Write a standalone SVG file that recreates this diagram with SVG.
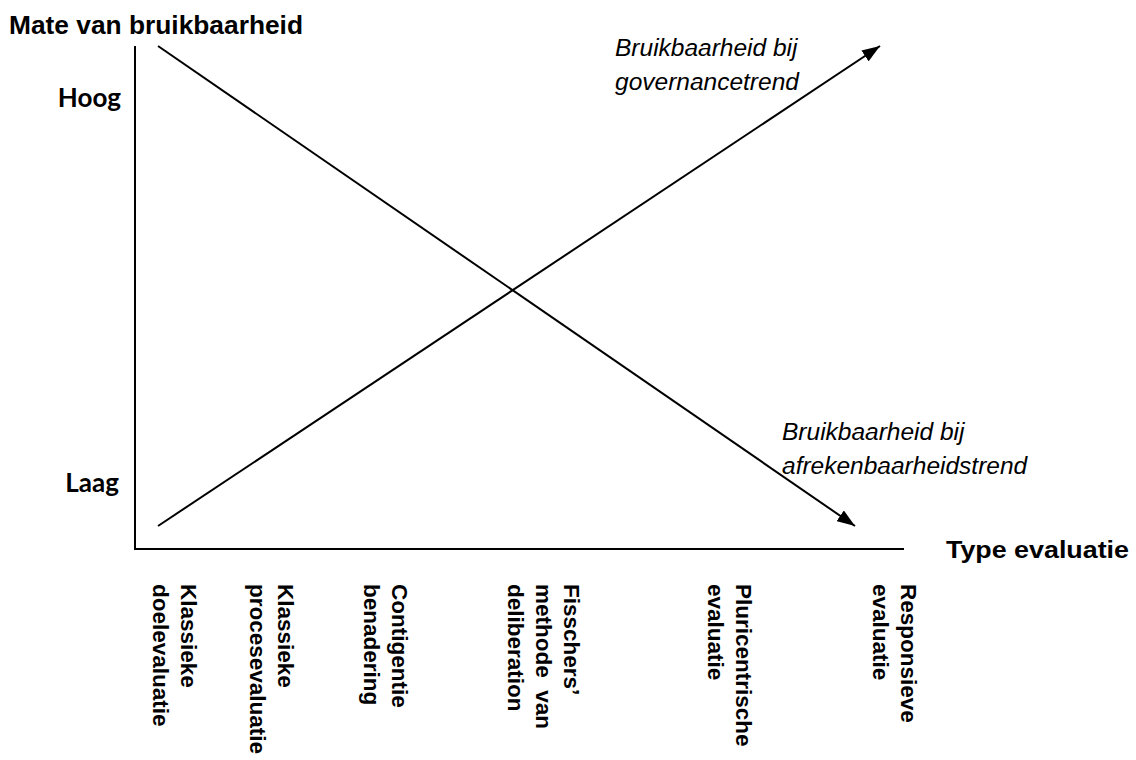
<svg xmlns="http://www.w3.org/2000/svg" width="1136" height="760" viewBox="0 0 1136 760">
<defs>
<marker id="arr" markerWidth="18" markerHeight="13" refX="18" refY="6.5" orient="auto" markerUnits="userSpaceOnUse">
<path d="M0,0 L18,6.5 L0,13 Z" fill="#000"/>
</marker>
<style>
.ax{font-family:"Liberation Sans",Arial,sans-serif;font-weight:bold;fill:#000}
.lv{font-family:Lato,"Liberation Sans",sans-serif;font-weight:bold;font-size:26px;fill:#000}
.it{font-family:"Liberation Sans",Arial,sans-serif;font-style:italic;font-size:24.5px;fill:#000}
.lb{font-family:"Liberation Sans",Arial,sans-serif;font-weight:bold;font-size:22.5px;fill:#000}
.ln{stroke:#000;stroke-width:2;fill:none}
</style>
</defs>
<rect width="1136" height="760" fill="#fff"/>
<g id="axes">
<line class="ln" x1="135" y1="46" x2="135" y2="549"/>
<line class="ln" x1="134" y1="549" x2="904" y2="549"/>
</g>
<g id="connectors">
<line class="ln" x1="158" y1="46" x2="855" y2="526" marker-end="url(#arr)"/>
<line class="ln" x1="158" y1="526" x2="880" y2="46" marker-end="url(#arr)"/>
</g>
<g id="axis-labels">
<text class="ax" x="9" y="34" font-size="25" textLength="294" lengthAdjust="spacingAndGlyphs">Mate van bruikbaarheid</text>
<text class="ax" x="946" y="558" font-size="24" textLength="183" lengthAdjust="spacingAndGlyphs">Type evaluatie</text>
<text class="lv" x="121" y="107" text-anchor="end">Hoog</text>
<text class="lv" x="119" y="492" text-anchor="end">Laag</text>
</g>
<g id="trend-governance">
<text class="it" x="615" y="56">Bruikbaarheid bij</text>
<text class="it" x="615" y="90">governancetrend</text>
</g>
<g id="trend-afrekenbaarheid">
<text class="it" x="782" y="440">Bruikbaarheid bij</text>
<text class="it" x="782" y="474">afrekenbaarheidstrend</text>
</g>
<g id="type-1" transform="translate(181,584) rotate(90)">
<text class="lb" x="0" y="0">Klassieke</text>
<text class="lb" x="0" y="28">doelevaluatie</text>
</g>
<g id="type-2" transform="translate(278,584) rotate(90)">
<text class="lb" x="0" y="0">Klassieke</text>
<text class="lb" x="0" y="28">procesevaluatie</text>
</g>
<g id="type-3" transform="translate(392,584) rotate(90)">
<text class="lb" x="0" y="0">Contigentie</text>
<text class="lb" x="0" y="28">benadering</text>
</g>
<g id="type-4" transform="translate(564,584) rotate(90)">
<text class="lb" x="0" y="0">Fisschers’</text>
<text class="lb" x="0" y="28" xml:space="preserve">methode  van</text>
<text class="lb" x="0" y="56">deliberation</text>
</g>
<g id="type-5" transform="translate(736,584) rotate(90)">
<text class="lb" x="0" y="0">Pluricentrische</text>
<text class="lb" x="0" y="28">evaluatie</text>
</g>
<g id="type-6" transform="translate(901,584) rotate(90)">
<text class="lb" x="0" y="0">Responsieve</text>
<text class="lb" x="0" y="28">evaluatie</text>
</g>
</svg>
